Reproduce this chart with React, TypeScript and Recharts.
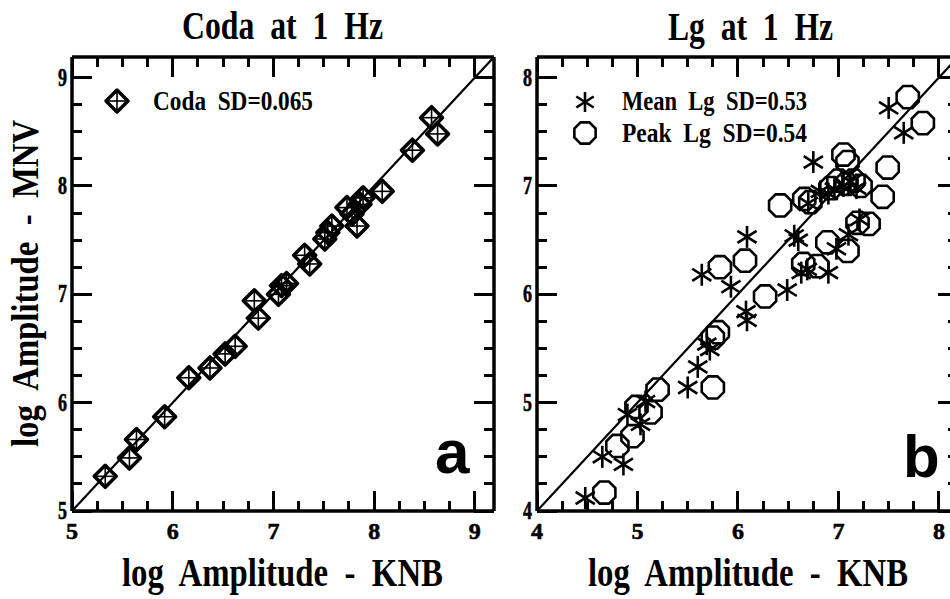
import React from 'react';
import { ScatterChart, Scatter, XAxis, YAxis, ReferenceLine } from 'recharts';

// ---------- data ----------
const codaKNB = [5.33, 5.57, 5.64, 5.92, 6.16, 6.37, 6.52, 6.62, 6.81, 6.85, 7.05, 7.08, 7.13, 7.31, 7.36, 7.51, 7.54, 7.58, 7.73, 7.78, 7.83, 7.86, 7.89, 8.08, 8.38, 8.57, 8.63];
const codaMNV = [5.32, 5.49, 5.66, 5.87, 6.23, 6.32, 6.45, 6.52, 6.94, 6.78, 7.0, 7.08, 7.1, 7.36, 7.28, 7.51, 7.57, 7.63, 7.8, 7.74, 7.63, 7.83, 7.89, 7.95, 8.33, 8.63, 8.48];

const meanLgKNB = [4.48, 4.65, 4.86, 4.9, 5.03, 5.08, 5.5, 5.6, 5.69, 5.72, 5.64, 5.93, 6.09, 6.08, 6.09, 6.49, 6.56, 6.6, 6.63, 6.69, 6.9, 6.98, 7.1, 7.21, 6.7, 6.75, 6.82, 6.9, 6.96, 7.05, 7.12, 7.18, 7.5, 7.65];
const meanLgMNV = [4.12, 4.5, 4.43, 4.89, 4.8, 5.01, 5.14, 5.33, 5.54, 5.49, 6.18, 6.07, 6.53, 5.84, 5.76, 6.04, 6.54, 6.5, 6.2, 6.23, 6.2, 6.42, 6.55, 6.69, 6.84, 7.22, 6.95, 6.93, 6.97, 7.0, 7.04, 6.98, 7.72, 7.49];

const peakLgKNB = [4.67, 4.8, 4.95, 4.99, 5.13, 5.2, 5.75, 5.8, 5.75, 5.82, 6.07, 6.27, 6.42, 6.65, 6.79, 6.89, 7.09, 7.19, 7.3, 6.66, 6.72, 7.05, 7.09, 7.49, 7.44, 6.92, 7.0, 7.08, 7.15, 7.22, 7.69, 7.84];
const peakLgMNV = [4.17, 4.6, 4.69, 4.96, 4.91, 5.12, 5.14, 5.65, 5.6, 6.25, 6.31, 5.98, 6.82, 6.28, 6.26, 6.48, 6.4, 6.66, 6.65, 6.88, 6.85, 7.29, 7.22, 7.17, 6.9, 6.98, 7.05, 7.02, 7.05, 7.0, 7.82, 7.58];

const codaTicks = [5, 5.25, 5.5, 5.75, 6, 6.25, 6.5, 6.75, 7, 7.25, 7.5, 7.75, 8, 8.25, 8.5, 8.75, 9];
const lgTicks = [4, 4.25, 4.5, 4.75, 5, 5.25, 5.5, 5.75, 6, 6.25, 6.5, 6.75, 7, 7.25, 7.5, 7.75, 8];
const codaDomain = [5, 9.19];
const lgDomain = [4, 8.19];

const codaData = codaKNB.map((x, i) => ({ x, y: codaMNV[i] }));
const meanLgData = meanLgKNB.map((x, i) => ({ x, y: meanLgMNV[i] }));
const peakLgData = peakLgKNB.map((x, i) => ({ x, y: peakLgMNV[i] }));

// ---------- layout / styles ----------
const SERIF = '"Liberation Serif", "Times New Roman", serif';
const SANS = '"Liberation Sans", Arial, sans-serif';
const PLOT_TOP = 57;
const PLOT_BOTTOM = 511;
const CHART_H = 599;
const PANEL_A = { offset: 0, width: 500, left: 72, right: 494 };
const PANEL_B = { offset: 500, width: 460, left: 37, right: 458 };

const isMajor = (v: number) => Math.abs(v - Math.round(v)) < 1e-6;

const BottomLabel = (props: any) => {
  const { x, y, payload } = props;
  if (!isMajor(payload.value)) return <g />;
  return (
    <text x={x} y={y + 28} textAnchor="middle" fontFamily={SERIF} fontWeight="bold" fontSize={24} fill="#000" stroke="#000" strokeWidth={0.6}>
      {String(payload.value)}
    </text>
  );
};

const LeftLabel = (props: any) => {
  const { x, y, payload } = props;
  if (!isMajor(payload.value)) return <g />;
  return (
    <text
      transform={`translate(${x - 5},${y + 8}) scale(0.72,1)`}
      textAnchor="end"
      fontFamily={SERIF}
      fontWeight="bold"
      fontSize={25}
      fill="#000"
      stroke="#000"
      strokeWidth={0.6}
    >
      {String(payload.value)}
    </text>
  );
};

// ---------- markers ----------
const DiamondCross = ({ cx, cy, r = 11 }: any) => (
  <g>
    <polygon
      points={`${cx},${cy - r} ${cx + r},${cy} ${cx},${cy + r} ${cx - r},${cy}`}
      fill="none"
      stroke="#000"
      strokeWidth={3.5}
      strokeLinejoin="round"
    />
    <line x1={cx - r} x2={cx + r} y1={cy} y2={cy} stroke="#000" strokeWidth={1.6} />
    <line x1={cx} x2={cx} y1={cy - r} y2={cy + r} stroke="#000" strokeWidth={1.6} />
  </g>
);

const Asterisk = ({ cx, cy, r = 11 }: any) => {
  const dx = r * 0.87;
  const dy = r * 0.55;
  return (
    <g stroke="#000" strokeWidth={2.6}>
      <line x1={cx} x2={cx} y1={cy - r} y2={cy + r} />
      <line x1={cx - dx} x2={cx + dx} y1={cy - dy} y2={cy + dy} />
      <line x1={cx - dx} x2={cx + dx} y1={cy + dy} y2={cy - dy} />
    </g>
  );
};

const Octagon = ({ cx, cy, r = 12 }: any) => {
  const pts: string[] = [];
  for (let k = 0; k < 8; k++) {
    const a = ((22.5 + 45 * k) * Math.PI) / 180;
    pts.push(`${cx + r * Math.cos(a)},${cy + r * Math.sin(a)}`);
  }
  return <polygon points={pts.join(' ')} fill="none" stroke="#000" strokeWidth={2.6} />;
};

const axisLine = { stroke: '#000', strokeWidth: 3.5 };

function renderPanel(domain: number[], ticks: number[], geo: any, series: React.ReactNode) {
  return (
    <ScatterChart
      width={geo.width}
      height={CHART_H}
      margin={{ top: PLOT_TOP - 1, left: geo.left - 1, right: geo.width - geo.right - 1, bottom: CHART_H - PLOT_BOTTOM - 1 }}
    >
      <XAxis xAxisId="b" type="number" dataKey="x" domain={domain} ticks={ticks} interval={0} height={1}
        tickSize={0} tickMargin={0} tickLine={false} axisLine={axisLine} tick={BottomLabel} allowDataOverflow />
      <XAxis xAxisId="t" orientation="top" type="number" dataKey="x" domain={domain} ticks={ticks} interval={0} height={1}
        tickSize={0} tickMargin={0} tickLine={false} axisLine={axisLine} tick={false} allowDataOverflow />
      <YAxis yAxisId="l" type="number" dataKey="y" domain={domain} ticks={ticks} interval={0} width={1}
        tickSize={0} tickMargin={0} tickLine={false} axisLine={axisLine} tick={LeftLabel} allowDataOverflow />
      <YAxis yAxisId="r" orientation="right" type="number" dataKey="y" domain={domain} ticks={ticks} interval={0} width={1}
        tickSize={0} tickMargin={0} tickLine={false} axisLine={axisLine} tick={false} allowDataOverflow />
      <ReferenceLine
        xAxisId="b"
        yAxisId="l"
        segment={[
          { x: domain[0], y: domain[0] },
          { x: domain[1], y: domain[1] },
        ]}
        stroke="#000"
        strokeWidth={2.2}
        ifOverflow="visible"
      />
      {series}
    </ScatterChart>
  );
}

// inward tick marks on all four sides, placed with the same linear mapping as the axes
function TickFrame({ domain, ticks, geo }: any) {
  const [lo, hi] = domain;
  const L = geo.offset + geo.left;
  const R = geo.offset + geo.right;
  const sx = (v: number) => L + ((v - lo) / (hi - lo)) * (R - L);
  const sy = (v: number) => PLOT_BOTTOM - ((v - lo) / (hi - lo)) * (PLOT_BOTTOM - PLOT_TOP);
  return (
    <g stroke="black" strokeWidth={3} shapeRendering="crispEdges">
      {ticks.map((v: number, i: number) => {
        const len = isMajor(v) ? 20 : 10;
        const x = sx(v);
        const y = sy(v);
        return (
          <g key={i}>
            <line x1={x} x2={x} y1={PLOT_BOTTOM} y2={PLOT_BOTTOM - len} />
            <line x1={x} x2={x} y1={PLOT_TOP} y2={PLOT_TOP + len} />
            <line x1={L} x2={L + len} y1={y} y2={y} />
            <line x1={R} x2={R - len} y1={y} y2={y} />
          </g>
        );
      })}
    </g>
  );
}

function Overlay() {
  const common = { fontFamily: SERIF, fontWeight: 'bold' as const, fill: '#000', style: { whiteSpace: 'pre' as const } };
  return (
    <svg width={950} height={599} style={{ position: 'absolute', left: 0, top: 0, pointerEvents: 'none' }}>
      <TickFrame domain={codaDomain} ticks={codaTicks} geo={PANEL_A} />
      <TickFrame domain={lgDomain} ticks={lgTicks} geo={PANEL_B} />
      <text x={182} y={39} fontSize={40} textLength={201} lengthAdjust="spacingAndGlyphs" {...common}>
        {'Coda  at  1  Hz'}
      </text>
      <text x={668} y={40} fontSize={40} textLength={165} lengthAdjust="spacingAndGlyphs" {...common}>
        {'Lg  at  1  Hz'}
      </text>
      <text x={122} y={586} fontSize={40} textLength={321} lengthAdjust="spacingAndGlyphs" {...common}>
        {'log  Amplitude  -  KNB'}
      </text>
      <text x={588} y={586} fontSize={40} textLength={320} lengthAdjust="spacingAndGlyphs" {...common}>
        {'log  Amplitude  -  KNB'}
      </text>
      <text transform="translate(38,447) rotate(-90)" x={0} y={0} fontSize={38} textLength={327} lengthAdjust="spacingAndGlyphs" {...common}>
        {'log  Amplitude  -  MNV'}
      </text>
      <DiamondCross cx={117} cy={101} r={11} />
      <text x={153} y={110} fontSize={27} textLength={160} lengthAdjust="spacingAndGlyphs" {...common}>
        {'Coda  SD=0.065'}
      </text>
      <Asterisk cx={585} cy={102} r={10} />
      <text x={622} y={110} fontSize={27} textLength={185} lengthAdjust="spacingAndGlyphs" {...common}>
        {'Mean  Lg  SD=0.53'}
      </text>
      <Octagon cx={585} cy={133} r={11.5} />
      <text x={622} y={142} fontSize={27} textLength={185} lengthAdjust="spacingAndGlyphs" {...common}>
        {'Peak  Lg  SD=0.54'}
      </text>
      <text x={435} y={473} fontSize={62} fontFamily={SANS} fontWeight="bold" fill="#000">
        a
      </text>
      <text x={903} y={477} fontSize={60} fontFamily={SANS} fontWeight="bold" fill="#000">
        b
      </text>
    </svg>
  );
}

export default function App() {
  return (
    <div style={{ position: 'fixed', left: 0, top: 0, width: 950, height: 599, overflow: 'hidden', background: '#fff' }}>
      <div style={{ position: 'absolute', left: PANEL_A.offset, top: 0 }}>
        {renderPanel(
          codaDomain,
          codaTicks,
          PANEL_A,
          <Scatter
            xAxisId="b"
            yAxisId="l"
            data={codaData}
            isAnimationActive={false}
            shape={(p: any) => <DiamondCross cx={p.cx} cy={p.cy} r={11} />}
          />
        )}
      </div>
      <div style={{ position: 'absolute', left: PANEL_B.offset, top: 0 }}>
        {renderPanel(
          lgDomain,
          lgTicks,
          PANEL_B,
          [
            <Scatter
              key="peak"
              xAxisId="b"
              yAxisId="l"
              data={peakLgData}
              isAnimationActive={false}
              shape={(p: any) => <Octagon cx={p.cx} cy={p.cy} r={12} />}
            />,
            <Scatter
              key="mean"
              xAxisId="b"
              yAxisId="l"
              data={meanLgData}
              isAnimationActive={false}
              shape={(p: any) => <Asterisk cx={p.cx} cy={p.cy} r={11} />}
            />,
          ]
        )}
      </div>
      <Overlay />
    </div>
  );
}
